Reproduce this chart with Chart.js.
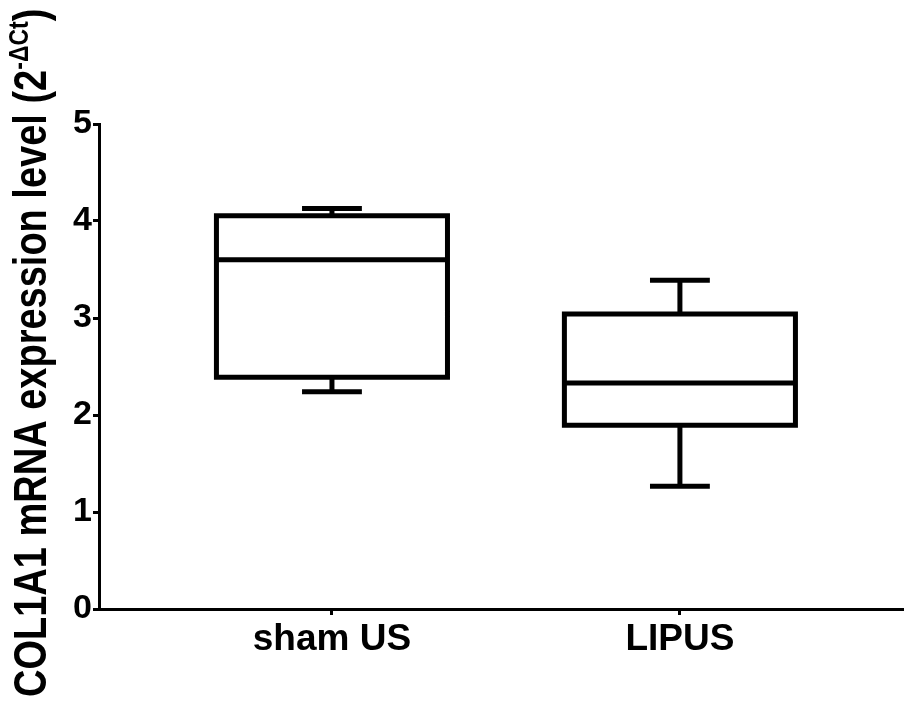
<!DOCTYPE html>
<html lang="en">
<head>
    <meta charset="UTF-8">
    <title>COL1A1 mRNA expression</title>
    <script src="https://cdn.jsdelivr.net/npm/chart.js"></script>
    <style>
        html, body { margin: 0; padding: 0; background: #fff; }
        #wrap { width: 904px; height: 709px; position: relative; }
    </style>
</head>
<body>
<div id="wrap"><canvas id="chart"></canvas></div>

<script>
    // groups and box plot values
    const groups = ['sham US', 'LIPUS'];
    const minVals = [2.24, 1.265];
    const q1Vals = [2.39, 1.895];
    const medianVals = [3.60, 2.33];
    const q3Vals = [4.055, 3.04];
    const maxVals = [4.13, 3.39];
    const yTicks = [0, 1, 2, 3, 4, 5];

    const BOX_HALF = 0.332;   // half box width, in x units
    const CAP_HALF = 0.086;   // half whisker cap width
    const FONT = "'Liberation Sans', Arial, sans-serif";

    const gap = {x: null, y: null};

    // build line segments from the arrays, separated by gaps
    const boxPts = [], medianPts = [], stemPts = [], capPts = [];
    groups.forEach((g, i) => {
        boxPts.push({x: i - BOX_HALF, y: q1Vals[i]}, {x: i + BOX_HALF, y: q1Vals[i]},
            {x: i + BOX_HALF, y: q3Vals[i]}, {x: i - BOX_HALF, y: q3Vals[i]},
            {x: i - BOX_HALF, y: q1Vals[i]}, gap);
        medianPts.push({x: i - BOX_HALF, y: medianVals[i]}, {x: i + BOX_HALF, y: medianVals[i]}, gap);
        stemPts.push({x: i, y: q3Vals[i]}, {x: i, y: maxVals[i]}, gap,
            {x: i, y: q1Vals[i]}, {x: i, y: minVals[i]}, gap);
        capPts.push({x: i - CAP_HALF, y: maxVals[i]}, {x: i + CAP_HALF, y: maxVals[i]}, gap,
            {x: i - CAP_HALF, y: minVals[i]}, {x: i + CAP_HALF, y: minVals[i]}, gap);
    });

    function lineSet(data, cap) {
        return {
            data: data,
            showLine: true,
            borderColor: '#000',
            borderWidth: 5,
            borderCapStyle: cap,
            borderJoinStyle: 'miter',
            pointRadius: 0,
            tension: 0,
            spanGaps: false,
            fill: false
        };
    }

    // rotated y title with superscript 2^-ΔCt
    const yTitle = {
        id: 'yTitle',
        afterDraw(chart) {
            const ctx = chart.ctx;
            ctx.save();
            ctx.translate(46, 697);
            ctx.scale(1.2, 1);
            ctx.rotate(-Math.PI / 2);
            ctx.fillStyle = '#000';
            ctx.textAlign = 'left';
            ctx.textBaseline = 'alphabetic';
            ctx.font = 'bold 38px ' + FONT;
            const main = 'COL1A1 mRNA expression level (2';
            ctx.fillText(main, 0, 0);
            let x = ctx.measureText(main).width;
            ctx.font = 'bold 23px ' + FONT;
            const sup = '-\u0394Ct';
            ctx.fillText(sup, x, -15);
            x += ctx.measureText(sup).width;
            ctx.font = 'bold 38px ' + FONT;
            ctx.fillText(')', x, 0);
            ctx.restore();
        }
    };

    new Chart(document.getElementById('chart'), {
        type: 'scatter',
        data: {
            datasets: [
                lineSet(boxPts, 'square'),
                lineSet(medianPts, 'butt'),
                lineSet(stemPts, 'butt'),
                lineSet(capPts, 'butt')
            ]
        },
        options: {
            responsive: true,
            maintainAspectRatio: false,
            animation: false,
            layout: { padding: { top: 124, left: 0, right: 0, bottom: 0 } },
            plugins: {
                legend: { display: false },
                tooltip: { enabled: false }
            },
            scales: {
                x: {
                    type: 'linear',
                    min: -0.6695,
                    max: 1.644,
                    afterBuildTicks: scale => { scale.ticks = groups.map((g, i) => ({value: i})); },
                    afterFit: scale => { scale.height = 100; },
                    ticks: {
                        color: '#000',
                        padding: 3,
                        font: { family: FONT, size: 37, weight: 'bold' },
                        callback: v => groups[v]
                    },
                    grid: {
                        drawOnChartArea: false,
                        drawTicks: true,
                        tickLength: 6,
                        tickWidth: 3,
                        tickColor: '#000'
                    },
                    border: { display: true, color: '#000', width: 3 }
                },
                y: {
                    min: 0,
                    max: 5,
                    afterBuildTicks: scale => { scale.ticks = yTicks.map(v => ({value: v})); },
                    afterFit: scale => { scale.width = 99; },
                    ticks: {
                        color: '#000',
                        padding: 1,
                        font: { family: FONT, size: 34, weight: 'bold' }
                    },
                    grid: {
                        drawOnChartArea: false,
                        drawTicks: true,
                        tickLength: 6,
                        tickWidth: 3,
                        tickColor: '#000'
                    },
                    border: { display: true, color: '#000', width: 3 }
                }
            }
        },
        plugins: [yTitle]
    });
</script>
</body>
</html>
